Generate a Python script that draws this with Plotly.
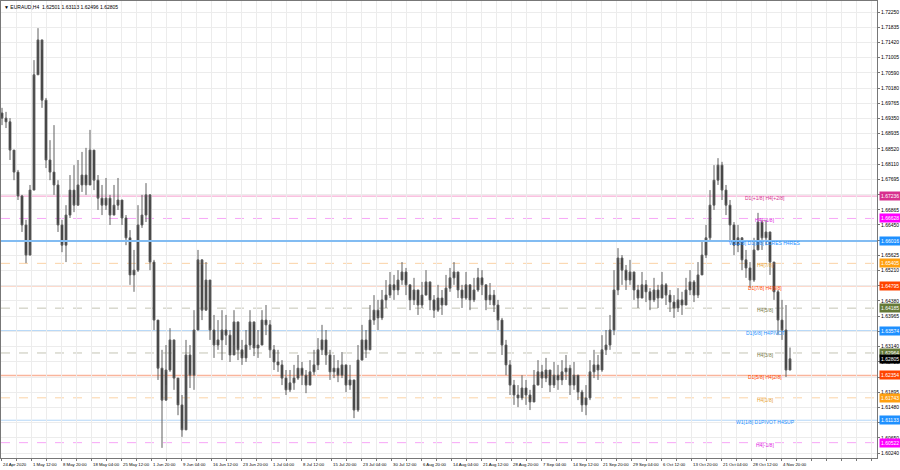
import plotly.graph_objects as go

# ---------------- data ----------------
symbol = "EURAUD,H4"
header_ohlc = ["1.62501", "1.63113", "1.62496", "1.62805"]

first_open = 1.6950
close = [1.6936, 1.6926, 1.6849, 1.6789, 1.6724, 1.6645, 1.6563, 1.6740, 1.7054, 1.7149,
         1.6985, 1.6822, 1.6789, 1.6754, 1.6645, 1.6590, 1.6672, 1.6740, 1.6699, 1.6754,
         1.6781, 1.6754, 1.6849, 1.6767, 1.6718, 1.6699, 1.6718, 1.6672, 1.6699, 1.6713,
         1.6664, 1.6610, 1.6509, 1.6522, 1.6645, 1.6672, 1.6727, 1.6544, 1.6386, 1.6255,
         1.6168, 1.6250, 1.6332, 1.6228, 1.6155, 1.6087, 1.6291, 1.6236, 1.6359, 1.6550,
         1.6413, 1.6495, 1.6359, 1.6318, 1.6332, 1.6359, 1.6345, 1.6291, 1.6381, 1.6305,
         1.6283, 1.6318, 1.6381, 1.6310, 1.6318, 1.6386, 1.6373, 1.6305, 1.6272, 1.6264,
         1.6228, 1.6196, 1.6215, 1.6228, 1.6255, 1.6236, 1.6209, 1.6245, 1.6264, 1.6305,
         1.6332, 1.6291, 1.6245, 1.6255, 1.6236, 1.6264, 1.6209, 1.6223, 1.6141, 1.6277,
         1.6332, 1.6305, 1.6386, 1.6413, 1.6392, 1.6441, 1.6454, 1.6482, 1.6468, 1.6495,
         1.6517, 1.6482, 1.6441, 1.6468, 1.6427, 1.6454, 1.6490, 1.6441, 1.6413, 1.6446,
         1.6427, 1.6473, 1.6501, 1.6517, 1.6468, 1.6446, 1.6482, 1.6441, 1.6468, 1.6501,
         1.6482, 1.6441, 1.6454, 1.6427, 1.6386, 1.6318, 1.6264, 1.6209, 1.6182, 1.6174,
         1.6201, 1.6182, 1.6163, 1.6209, 1.6245, 1.6228, 1.6250, 1.6209, 1.6236, 1.6223,
         1.6245, 1.6255, 1.6209, 1.6236, 1.6190, 1.6155, 1.6174, 1.6245, 1.6264, 1.6250,
         1.6305, 1.6318, 1.6359, 1.6468, 1.6555, 1.6522, 1.6495, 1.6517, 1.6468, 1.6446,
         1.6482, 1.6463, 1.6441, 1.6468, 1.6446, 1.6482, 1.6454, 1.6435, 1.6419, 1.6441,
         1.6427, 1.6468, 1.6490, 1.6454, 1.6509, 1.6563, 1.6610, 1.6699, 1.6767, 1.6808,
         1.6740, 1.6699, 1.6645, 1.6590, 1.6610, 1.6550, 1.6528, 1.6495, 1.6577, 1.6653,
         1.6610, 1.6626, 1.6544, 1.6463, 1.6386, 1.6359, 1.6250, 1.62805]
high = [1.6964, 1.6953, 1.6936, 1.6822, 1.6795, 1.6727, 1.6659, 1.6754, 1.7094, 1.7181,
        1.7122, 1.6991, 1.6876, 1.6917, 1.6767, 1.6659, 1.6699, 1.6781, 1.6808, 1.6822,
        1.6844, 1.6855, 1.6904, 1.6849, 1.6781, 1.6754, 1.6773, 1.6727, 1.6754, 1.6773,
        1.6713, 1.6672, 1.6631, 1.6577, 1.6699, 1.6727, 1.6759, 1.6713, 1.6550, 1.6386,
        1.6305, 1.6318, 1.6364, 1.6305, 1.6223, 1.6182, 1.6332, 1.6318, 1.6413, 1.6577,
        1.6536, 1.6544, 1.6441, 1.6400, 1.6386, 1.6413, 1.6400, 1.6359, 1.6413, 1.6359,
        1.6332, 1.6359, 1.6413, 1.6373, 1.6359, 1.6413, 1.6427, 1.6386, 1.6318, 1.6305,
        1.6277, 1.6250, 1.6250, 1.6264, 1.6291, 1.6272, 1.6250, 1.6277, 1.6305, 1.6337,
        1.6373, 1.6359, 1.6305, 1.6291, 1.6277, 1.6299, 1.6264, 1.6264, 1.6223, 1.6318,
        1.6373, 1.6359, 1.6427, 1.6454, 1.6441, 1.6468, 1.6495, 1.6517, 1.6509, 1.6522,
        1.6544, 1.6528, 1.6482, 1.6501, 1.6468, 1.6490, 1.6522, 1.6482, 1.6454, 1.6482,
        1.6468, 1.6509, 1.6528, 1.6544, 1.6509, 1.6482, 1.6517, 1.6482, 1.6501, 1.6528,
        1.6522, 1.6482, 1.6487, 1.6468, 1.6441, 1.6392, 1.6332, 1.6277, 1.6223, 1.6209,
        1.6236, 1.6223, 1.6196, 1.6250, 1.6277, 1.6264, 1.6283, 1.6245, 1.6272, 1.6264,
        1.6277, 1.6291, 1.6264, 1.6272, 1.6236, 1.6196, 1.6209, 1.6277, 1.6305, 1.6291,
        1.6345, 1.6359, 1.6400, 1.6522, 1.6582, 1.6563, 1.6536, 1.6550, 1.6509, 1.6482,
        1.6517, 1.6495, 1.6473, 1.6501, 1.6482, 1.6517, 1.6487, 1.6468, 1.6454, 1.6473,
        1.6463, 1.6501, 1.6522, 1.6495, 1.6544, 1.6604, 1.6645, 1.6740, 1.6808, 1.6827,
        1.6817, 1.6754, 1.6713, 1.6653, 1.6645, 1.6604, 1.6577, 1.6544, 1.6610, 1.6678,
        1.6659, 1.6659, 1.6618, 1.6536, 1.6468, 1.6441, 1.6427, 1.63113]
low = [1.6917, 1.6909, 1.6822, 1.6767, 1.6713, 1.6626, 1.6541, 1.6590, 1.6740, 1.7054,
       1.6964, 1.6800, 1.6767, 1.6727, 1.6626, 1.6571, 1.6544, 1.6664, 1.6680, 1.6713,
       1.6735, 1.6727, 1.6795, 1.6740, 1.6686, 1.6672, 1.6686, 1.6645, 1.6672, 1.6686,
       1.6645, 1.6590, 1.6482, 1.6463, 1.6517, 1.6637, 1.6653, 1.6522, 1.6359, 1.6223,
       1.6038, 1.6209, 1.6245, 1.6196, 1.6127, 1.6068, 1.6182, 1.6201, 1.6196, 1.6359,
       1.6386, 1.6441, 1.6332, 1.6283, 1.6305, 1.6277, 1.6318, 1.6272, 1.6318, 1.6277,
       1.6264, 1.6272, 1.6305, 1.6288, 1.6283, 1.6318, 1.6345, 1.6283, 1.6250, 1.6245,
       1.6209, 1.6182, 1.6190, 1.6196, 1.6223, 1.6209, 1.6187, 1.6209, 1.6236, 1.6250,
       1.6291, 1.6264, 1.6223, 1.6228, 1.6217, 1.6228, 1.6190, 1.6196, 1.6119, 1.6136,
       1.6277, 1.6283, 1.6318, 1.6373, 1.6359, 1.6386, 1.6419, 1.6446, 1.6441, 1.6454,
       1.6482, 1.6454, 1.6413, 1.6427, 1.6400, 1.6419, 1.6454, 1.6413, 1.6392, 1.6408,
       1.6400, 1.6441, 1.6463, 1.6482, 1.6446, 1.6419, 1.6441, 1.6413, 1.6435, 1.6463,
       1.6454, 1.6413, 1.6427, 1.6408, 1.6359, 1.6291, 1.6236, 1.6182, 1.6155, 1.6149,
       1.6168, 1.6155, 1.6141, 1.6168, 1.6209, 1.6201, 1.6217, 1.6190, 1.6201, 1.6196,
       1.6209, 1.6223, 1.6182, 1.6196, 1.6168, 1.6136, 1.6127, 1.6168, 1.6228, 1.6223,
       1.6245, 1.6291, 1.6305, 1.6345, 1.6454, 1.6482, 1.6468, 1.6482, 1.6441, 1.6419,
       1.6446, 1.6435, 1.6413, 1.6435, 1.6419, 1.6446, 1.6427, 1.6408, 1.6392, 1.6408,
       1.6400, 1.6441, 1.6454, 1.6435, 1.6446, 1.6522, 1.6555, 1.6604, 1.6686, 1.6754,
       1.6713, 1.6672, 1.6604, 1.6563, 1.6571, 1.6522, 1.6501, 1.6473, 1.6490, 1.6582,
       1.6577, 1.6590, 1.6509, 1.6441, 1.6345, 1.6332, 1.6231, 1.62496]

y_ticks = [1.72250, 1.71835, 1.71420, 1.71005, 1.70590, 1.70180, 1.69765, 1.69350, 1.68935,
           1.68520, 1.68110, 1.67695, 1.67280, 1.66865, 1.66450, 1.66035, 1.65625, 1.65210,
           1.64795, 1.64380, 1.63965, 1.63550, 1.63140, 1.62725, 1.62310, 1.61895, 1.61480,
           1.61065, 1.60650, 1.60240]

x_labels = ["24 Apr 2020", "1 May 12:00", "8 May 20:00", "18 May 04:00", "25 May 12:00",
            "1 Jun 20:00", "9 Jun 04:00", "16 Jun 12:00", "23 Jun 20:00", "1 Jul 04:00",
            "8 Jul 12:00", "15 Jul 20:00", "23 Jul 04:00", "30 Jul 12:00", "6 Aug 20:00",
            "14 Aug 04:00", "21 Aug 12:00", "28 Aug 20:00", "7 Sep 04:00", "14 Sep 12:00",
            "21 Sep 20:00", "29 Sep 04:00", "6 Oct 12:00", "13 Oct 20:00", "21 Oct 04:00",
            "28 Oct 12:00", "4 Nov 20:00"]

level_values = [1.67236, 1.66628, 1.66016, 1.65405, 1.64795, 1.64185,
                1.63574, 1.62964, 1.62354, 1.61743, 1.61133, 1.60522]
level_names = ["D1[+1/8] H4[+2/8]", "H4[+1/8]", "W1[2/8] D1[8/8] D1RES H4RES", "H4[7/8]",
               "D1[7/8] H4[6/8]", "H4[5/8]", "D1[6/8] H4PIVOT", "H4[3/8]",
               "D1[5/8] H4[2/8]", "H4[1/8]", "W1[1/8] D1PIVOT H4SUP", "H4[-1/8]"]
level_box_colors = ["#d8308e", "#ff00ff", "#1e90ff", "#ffa010", "#ff4500", "#667a38",
                    "#1e90ff", "#667a38", "#ff4500", "#ffa010", "#1e90ff", "#ff00ff"]
level_line_colors = ["#f59ccc", "#f7a6f7", "rgb(130,188,242)", "#fbd3a6", "#f9b59c", "#c4c4b4",
                     "#b3d6f7", "#c4c4b4", "#f9b59c", "#fbd3a6", "#b3d6f7", "#f7a6f7"]
level_text_colors = ["#d6338f", "#e020e0", "#1e90ff", "#e8a030", "#ff4500", "#7a7a45",
                     "#1e90ff", "#7a7a45", "#ff4500", "#e8a030", "#1e90ff", "#e020e0"]
level_dash = ["solid", "dash", "solid", "dash", "solid", "dash",
              "solid", "dash", "solid", "dash", "solid", "dash"]
level_width = [1, 1, 2, 1, 1.5, 1, 1, 1, 1.5, 1, 1, 1]
current_price = 1.62805

# ---------------- figure ----------------
FONT = "Liberation Sans"
opens = [first_open] + close[:-1]
xs = list(range(len(close)))
BAR_PX = 4
PLOT_W = 900 - 1 - 23
x_lo = -0.25
x_hi = x_lo + PLOT_W / BAR_PX

fig = go.Figure()
fig.add_trace(go.Candlestick(
    x=xs, open=opens, high=high, low=low, close=close,
    increasing=dict(line=dict(color="#5e5e5e", width=1), fillcolor="#2a2a2a"),
    decreasing=dict(line=dict(color="#5e5e5e", width=1), fillcolor="#1a1a1a"),
    whiskerwidth=0, hoverinfo="skip", showlegend=False))

shapes = []
annotations = []
for v, c, d, w in zip(level_values, level_line_colors, level_dash, level_width):
    shapes.append(dict(type="line", xref="paper", x0=0, x1=1, yref="y", y0=v, y1=v,
                       line=dict(color=c, width=w, dash=d),
                       layer="above" if w >= 2 else "between"))

label_x = x_lo + (765 - 1) / BAR_PX
for v, name, tc in zip(level_values, level_names, level_text_colors):
    annotations.append(dict(x=label_x, y=v, xref="x", yref="y", text=name, showarrow=False,
                            xanchor="center", yanchor="middle", yshift=-2,
                            font=dict(family=FONT, size=5, color=tc)))

for v, c in zip(level_values + [current_price], level_box_colors + ["#000000"]):
    annotations.append(dict(x=1, y=v, xref="paper", yref="y", text=f"{v:.5f}",
                            showarrow=False, xanchor="left", yanchor="middle", xshift=2,
                            bgcolor=c, borderpad=1,
                            font=dict(family=FONT, size=5, color="#ffffff")))

for k, lab in enumerate(x_labels):
    annotations.append(dict(x=x_lo + 7.5 * k, y=0, xref="x", yref="paper", text=lab,
                            showarrow=False, xanchor="left", yanchor="top", yshift=-2,
                            font=dict(family=FONT, size=4.3, color="#000000")))

annotations.append(dict(x=0, y=1, xref="paper", yref="paper",
                        text="▼ " + symbol + "  " + " ".join(header_ohlc),
                        showarrow=False, xanchor="left", yanchor="top", xshift=1, yshift=-1,
                        font=dict(family=FONT, size=5, color="#000000")))

grid_vals = [x_lo + 3.75 * k for k in range(0, 59)]

fig.update_layout(
    width=900, height=470,
    margin=dict(l=1, r=23, t=1, b=12, autoexpand=False),
    paper_bgcolor="#ffffff", plot_bgcolor="#ffffff",
    showlegend=False, boxgap=0.35,
    shapes=shapes, annotations=annotations,
    xaxis=dict(range=[x_lo, x_hi], rangeslider=dict(visible=False),
               tickmode="array", tickvals=grid_vals, ticktext=[""] * len(grid_vals),
               showgrid=True, gridcolor="#ececec", gridwidth=1,
               ticks="outside", ticklen=2, tickcolor="#777777",
               showline=True, linecolor="#777777", linewidth=1, mirror=True,
               zeroline=False, fixedrange=True, automargin=False),
    yaxis=dict(range=[1.60104, 1.72550], side="right",
               tickmode="array", tickvals=y_ticks, ticktext=[f"{t:.5f}" for t in y_ticks],
               showgrid=True, gridcolor="#ececec", gridwidth=1,
               ticks="outside", ticklen=2, tickcolor="#777777",
               tickfont=dict(family=FONT, size=5, color="#000000"),
               showline=True, linecolor="#777777", linewidth=1, mirror=True,
               zeroline=False, fixedrange=True, automargin=False),
)

fig.write_html("out.html", config={"displayModeBar": False},
               post_script="document.body.style.margin='0';document.body.style.overflow='hidden';")
